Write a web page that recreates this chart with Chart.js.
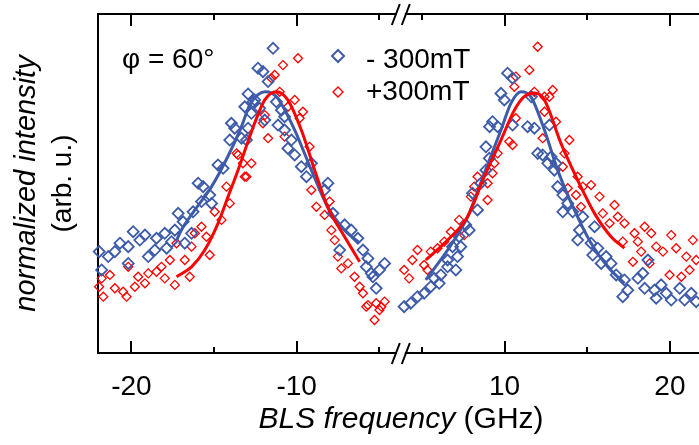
<!DOCTYPE html>
<html>
<head>
<meta charset="utf-8">
<script src="https://cdn.jsdelivr.net/npm/chart.js@4.4.0/dist/chart.umd.min.js"></script>
<style>
  html, body { margin: 0; padding: 0; background: #fff; overflow: hidden; }
</style>
</head>
<body>
<canvas id="grafico" width="699" height="445"></canvas>
<script>
// puntos medidos [frecuencia GHz, intensidad normalizada]
const azulIzq = [[-12.94,0.989],[-13.75,0.858],[-14.05,0.813],[-13.34,0.820],[-14.76,0.718],[-14.45,0.705],[-15.96,0.648],[-15.66,0.635],[-15.15,0.571],[-15.76,0.578],[-16.27,0.539],[-17.17,0.533],[-16.87,0.501],[-17.37,0.469],[-17.98,0.457],[-18.48,0.438],[-19.18,0.450],[-19.89,0.463],[-19.49,0.431],[-20.19,0.406],[-20.69,0.419],[-21.00,0.387],[-21.40,0.368],[-21.95,0.387],[-21.80,0.317],[-20.19,0.342],[-18.98,0.368],[-18.58,0.393],[-17.87,0.400],[-16.77,0.419],[-16.36,0.457],[-17.57,0.425],[-15.26,0.603],[-13.14,0.940],[-13.95,0.877],
  [-11.43,1.163],[-12.34,1.087],[-12.04,1.074],[-11.73,1.036],[-12.24,0.934],[-12.74,0.915],[-11.13,0.870],[-10.53,0.781],[-10.12,0.756],[-9.72,0.711],[-9.41,0.673],[-9.11,0.724],[-8.11,0.648],[-8.31,0.622],[-7.81,0.533],[-7.10,0.489],[-6.70,0.469],[-6.30,0.438],[-5.99,0.393],[-7.40,0.393],[-5.69,0.361],[-5.49,0.304],[-4.68,0.342],[-4.99,0.317],[-5.19,0.247],[-12.94,0.858],[-10.92,0.927],[-10.73,0.902],[-5.39,0.291],[-5.79,0.329],[-12.54,0.966],[-13.04,0.813],[-10.73,0.851],[-10.32,0.813],[-12.64,0.959],[-11.23,0.959],[-11.93,0.889]];
const rojoIzq = [[-13.55,0.756],[-13.25,0.724],[-13.14,0.673],[-14.25,0.635],[-14.05,0.571],[-14.96,0.539],[-14.55,0.508],[-15.76,0.482],[-16.16,0.457],[-15.46,0.444],[-16.36,0.406],[-15.26,0.374],[-16.77,0.355],[-17.27,0.419],[-17.67,0.355],[-18.18,0.329],[-18.98,0.304],[-19.59,0.291],[-20.19,0.329],[-17.98,0.285],[-17.37,0.260],[-16.47,0.291],[-19.79,0.253],[-20.50,0.234],[-21.00,0.247],[-21.30,0.298],[-21.80,0.285],[-21.95,0.253],[-21.70,0.215],[-20.29,0.215],[-19.18,0.266],[-18.48,0.310],
  [-9.92,1.125],[-10.83,1.099],[-11.33,1.061],[-11.53,1.049],[-11.03,0.997],[-10.12,0.966],[-10.53,0.940],[-9.62,0.921],[-9.82,0.896],[-11.93,0.908],[-11.73,0.820],[-10.73,0.826],[-9.22,0.787],[-12.74,0.724],[-13.04,0.673],[-9.11,0.622],[-8.81,0.558],[-8.01,0.578],[-8.31,0.527],[-7.90,0.469],[-7.70,0.431],[-7.51,0.368],[-7.30,0.323],[-6.90,0.342],[-6.50,0.291],[-6.19,0.253],[-5.99,0.228],[-5.69,0.183],[-5.19,0.190],[-4.68,0.196],[-4.88,0.177],[-5.29,0.126],[-5.79,0.177],[-4.99,0.164],[-12.04,0.877],[-13.64,0.762]];
const azulDer = [[10.18,1.068],[10.48,1.049],[9.78,0.991],[9.98,0.966],[9.27,0.883],[9.58,0.864],[10.48,0.870],[11.39,0.864],[11.80,0.858],[8.87,0.787],[9.07,0.743],[8.87,0.698],[8.56,0.648],[8.06,0.610],[8.36,0.546],[7.65,0.489],[7.86,0.469],[7.25,0.444],[7.35,0.406],[6.85,0.406],[6.55,0.355],[7.15,0.368],[7.05,0.317],[6.55,0.329],[6.14,0.298],[5.74,0.285],[6.04,0.266],[5.53,0.253],[5.13,0.228],[4.73,0.215],[4.32,0.190],[3.92,0.177],[12.30,0.756],[12.00,0.762],[12.61,0.724],
  [12.71,0.870],[12.81,0.749],[13.11,0.724],[13.01,0.698],[13.21,0.635],[13.52,0.603],[13.82,0.571],[13.52,0.539],[14.12,0.539],[14.73,0.520],[14.53,0.469],[15.44,0.482],[14.42,0.431],[15.23,0.419],[15.64,0.400],[15.33,0.374],[16.14,0.368],[15.84,0.342],[16.44,0.342],[16.75,0.298],[17.25,0.279],[17.45,0.240],[17.15,0.215],[18.06,0.285],[18.36,0.304],[18.67,0.355],[18.47,0.247],[19.07,0.240],[19.47,0.260],[19.78,0.228],[20.08,0.202],[20.59,0.247],[20.89,0.202],[21.29,0.228],[21.59,0.196],[19.17,0.209],[11.62,0.978],[9.09,0.864]];
const rojoDer = [[12.00,1.169],[11.50,1.080],[10.68,1.055],[10.59,1.016],[11.80,0.997],[12.41,0.978],[12.41,0.921],[12.30,0.820],[10.68,0.896],[10.28,0.807],[10.48,0.794],[9.58,0.762],[9.38,0.724],[9.27,0.686],[8.97,0.648],[8.16,0.635],[8.97,0.584],[7.96,0.597],[8.36,0.673],[7.25,0.508],[6.75,0.463],[7.56,0.450],[6.35,0.425],[5.94,0.400],[5.53,0.387],[4.73,0.393],[4.42,0.355],[5.13,0.336],[3.92,0.317],[4.22,0.285],[5.33,0.317],
  [12.91,1.004],[12.71,0.978],[13.11,0.883],[13.92,0.813],[13.62,0.762],[13.52,0.711],[14.42,0.673],[13.82,0.629],[14.73,0.635],[15.23,0.641],[14.32,0.603],[15.74,0.597],[14.62,0.558],[16.65,0.565],[15.94,0.533],[16.85,0.520],[17.25,0.495],[16.35,0.495],[18.47,0.482],[17.86,0.457],[18.87,0.457],[18.06,0.425],[17.15,0.425],[19.17,0.406],[19.58,0.387],[20.08,0.450],[20.38,0.400],[21.39,0.431],[20.99,0.368],[21.59,0.355],[18.26,0.387],[17.76,0.348],[18.77,0.342],[19.98,0.298],[20.69,0.291],[21.19,0.317]];

// curvas de ajuste
const ajusteAzulIzq = [[-17.25,0.431],[-17.07,0.458],[-16.16,0.546],[-15.15,0.635],[-14.17,0.749],[-13.34,0.864],[-12.84,0.947],[-12.36,0.985],[-11.93,0.997],[-11.51,0.992],[-11.15,0.973],[-10.12,0.851],[-9.11,0.698],[-8.13,0.558],[-7.10,0.469],[-6.19,0.420]];
const ajusteRojoIzq = [[-17.27,0.291],[-16.36,0.329],[-15.56,0.393],[-14.76,0.495],[-14.15,0.597],[-13.55,0.698],[-12.84,0.826],[-12.54,0.878],[-11.93,0.966],[-11.23,0.997],[-10.54,0.966],[-9.72,0.851],[-8.91,0.698],[-8.13,0.558],[-7.10,0.444],[-6.19,0.348]];
const ajusteAzulDer = [[5.23,0.279],[6.55,0.393],[7.76,0.520],[8.77,0.686],[9.78,0.851],[10.38,0.953],[10.99,0.997],[11.59,0.978],[12.41,0.851],[13.21,0.698],[14.22,0.546],[15.23,0.419],[16.24,0.329],[17.25,0.266]];
const ajusteRojoDer = [[5.23,0.355],[6.55,0.431],[7.76,0.520],[8.77,0.673],[9.78,0.813],[10.59,0.927],[11.15,0.977],[11.82,0.992],[12.41,0.966],[13.41,0.800],[14.42,0.660],[15.44,0.533],[16.44,0.444],[17.25,0.400]];

const ticksMayores = [-20, -10, 10, 20];
const ticksMenores = [-15, -5, 5, 15];
const etiquetas = ['- 300mT', '+300mT'];

const AZUL = '#3d5ba9';
const ROJO = '#ff0000';
const FUENTE = '"Liberation Sans", Arial, sans-serif';

// eje cortado: la parte positiva se corre hacia la izquierda
const CORRIMIENTO = 7.42;
const CORTE = -3.7;
const aU = f => f < 0 ? f : f - CORRIMIENTO;
const puntos = arr => arr.map(p => ({ x: aU(p[0]), y: p[1] }));
const deU = u => u < CORTE ? u : u + CORRIMIENTO;

const puntosDataset = (datos, color, radio, ancho, orden) => {
    return {
        data: puntos(datos),
        showLine: false,
        pointStyle: 'rectRot',
        pointRadius: radio,
        pointBorderWidth: ancho,
        pointBorderColor: color,
        pointBackgroundColor: 'rgba(0,0,0,0)',
        clip: false,
        order: orden
    }
}

const ajusteDataset = (datos, color, orden) => {
    return {
        data: puntos(datos),
        showLine: true,
        borderColor: color,
        borderWidth: 3,
        pointRadius: 0,
        cubicInterpolationMode: 'monotone',
        order: orden
    }
}

const diamante = (ctx, x, y, r, color, ancho) => {
    ctx.beginPath();
    ctx.moveTo(x, y - r);
    ctx.lineTo(x + r, y);
    ctx.lineTo(x, y + r);
    ctx.lineTo(x - r, y);
    ctx.closePath();
    ctx.strokeStyle = color;
    ctx.lineWidth = ancho;
    ctx.stroke();
}

const adornos = {
    id: 'adornos',
    afterDraw(chart) {
        const ctx = chart.ctx;
        const x = chart.scales.x;
        const area = chart.chartArea;
        ctx.save();

        // marcas hacia adentro arriba y abajo
        ctx.strokeStyle = '#000';
        ctx.lineWidth = 2;
        const marca = (v, largo) => {
            const px = Math.round(x.getPixelForValue(aU(v)));
            ctx.beginPath();
            ctx.moveTo(px, area.bottom);
            ctx.lineTo(px, area.bottom - largo);
            ctx.moveTo(px, area.top);
            ctx.lineTo(px, area.top + largo);
            ctx.stroke();
        };
        ticksMayores.forEach(v => marca(v, 12));
        ticksMenores.forEach(v => marca(v, 6));

        // simbolo de corte //
        const pc = x.getPixelForValue(CORTE);
        [area.top, area.bottom].forEach(yy => {
            ctx.fillStyle = '#fff';
            ctx.fillRect(pc - 4, yy - 3, 8, 6);
            ctx.strokeStyle = '#000';
            ctx.lineWidth = 2;
            ctx.beginPath();
            ctx.moveTo(pc - 9, yy + 11);
            ctx.lineTo(pc - 1, yy - 10);
            ctx.moveTo(pc + 1, yy + 11);
            ctx.lineTo(pc + 9, yy - 10);
            ctx.stroke();
        });

        ctx.fillStyle = '#000';
        ctx.textBaseline = 'middle';
        ctx.textAlign = 'center';

        // titulos del eje y
        const cy = (area.top + area.bottom) / 2;
        ctx.save();
        ctx.translate(27, cy);
        ctx.rotate(-Math.PI / 2);
        ctx.font = 'italic 29px ' + FUENTE;
        ctx.fillText('normalized intensity', 0, 0);
        ctx.restore();
        ctx.save();
        ctx.translate(63, cy);
        ctx.rotate(-Math.PI / 2);
        ctx.font = '28px ' + FUENTE;
        ctx.fillText('(arb. u.)', 0, 0);
        ctx.restore();

        // titulo del eje x
        ctx.textAlign = 'left';
        ctx.textBaseline = 'alphabetic';
        ctx.font = 'italic 30px ' + FUENTE;
        const t1 = 'BLS frequency';
        const w1 = ctx.measureText(t1).width;
        ctx.font = '30px ' + FUENTE;
        const t2 = ' (GHz)';
        const w2 = ctx.measureText(t2).width;
        const x0 = 401 - (w1 + w2) / 2;
        ctx.font = 'italic 30px ' + FUENTE;
        ctx.fillText(t1, x0, 428);
        ctx.font = '30px ' + FUENTE;
        ctx.fillText(t2, x0 + w1, 428);

        // angulo
        ctx.font = '28px ' + FUENTE;
        ctx.fillText('φ = 60°', 122, 68);

        // leyenda
        diamante(ctx, 338, 56, 6, AZUL, 2);
        diamante(ctx, 338, 92, 5, ROJO, 1.4);
        ctx.fillText(etiquetas[0], 366, 68);
        ctx.fillText(etiquetas[1], 366, 100);

        ctx.restore();
    }
};

const grafico = new Chart(document.getElementById('grafico'), {
    type: 'scatter',
    data: {
        datasets: [
            puntosDataset(azulIzq.concat(azulDer), AZUL, 5.5, 1.8, 2),
            puntosDataset(rojoIzq.concat(rojoDer), ROJO, 4.5, 1.3, 3),
            ajusteDataset(ajusteAzulIzq, AZUL, 1),
            ajusteDataset(ajusteAzulDer, AZUL, 1),
            ajusteDataset(ajusteRojoIzq, ROJO, 0),
            ajusteDataset(ajusteRojoDer, ROJO, 0)
        ]
    },
    options: {
        responsive: false,
        animation: false,
        devicePixelRatio: 1,
        layout: { padding: 0, autoPadding: false },
        plugins: { legend: { display: false }, tooltip: { enabled: false } },
        scales: {
            x: {
                type: 'linear',
                position: 'bottom',
                min: -22.02,
                max: 14.34,
                afterBuildTicks: s => {
                    s.ticks = ticksMayores.concat(ticksMenores).map(v => ({ value: aU(v) }));
                },
                afterFit: s => { s.height = 92; },
                ticks: {
                    autoSkip: false,
                    maxRotation: 0,
                    padding: 17,
                    color: '#000',
                    font: { size: 28, family: FUENTE },
                    callback: v => {
                        const f = Math.round(deU(v));
                        return ticksMayores.includes(f) ? String(f) : '';
                    }
                },
                grid: { display: false, drawTicks: false },
                border: { display: true, color: '#000', width: 2 }
            },
            x2: {
                type: 'linear',
                position: 'top',
                min: -22.02,
                max: 14.34,
                afterFit: s => { s.height = 14; },
                ticks: { display: false },
                grid: { display: false, drawTicks: false },
                border: { display: true, color: '#000', width: 2 }
            },
            y: {
                min: 0,
                max: 1.294,
                position: 'left',
                afterFit: s => { s.width = 98; },
                ticks: { display: false },
                grid: { display: false, drawTicks: false },
                border: { display: true, color: '#000', width: 2 }
            }
        }
    },
    plugins: [adornos]
});
</script>
</body>
</html>
